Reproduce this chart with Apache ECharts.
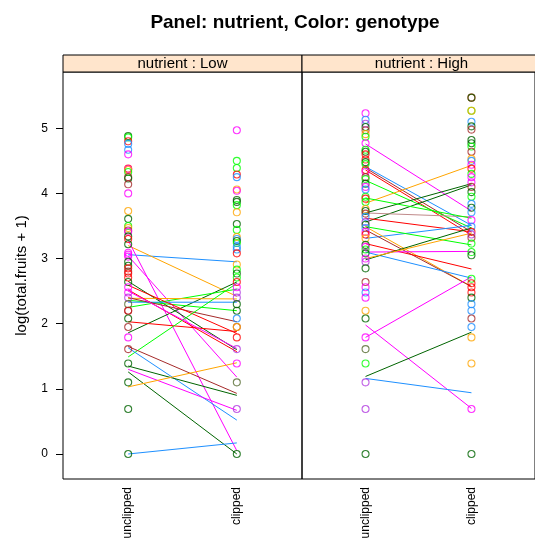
<!DOCTYPE html>
<html><head><meta charset="utf-8">
<script src="https://cdn.jsdelivr.net/npm/echarts@6/dist/echarts.min.js"></script>
<style>html,body{margin:0;padding:0;background:#fff}#c{width:535px;height:545px}</style>
</head><body><div id="c"></div>
<script>
// ---- data ----
const categories = ['unclipped', 'clipped'];
const panels = ['nutrient : Low', 'nutrient : High'];
const yTicks = [0, 1, 2, 3, 4, 5];
// genotype colour groups
const palette = ['#FF00FF','#00FF00','#1E90FF','#FFA500','#FF0000','#006400','#A52A2A','#B03AE0','#556B2F','#C08A8A'];

// Low nutrient, unclipped points
const lowUnclippedY = [4.88,4.86,4.80,4.76,4.67,4.60,4.38,4.37,4.36,4.33,4.25,4.23,4.14,4.00,3.73,3.61,3.50,3.47,3.43,3.41,3.34,3.30,3.22,3.09,3.06,3.03,2.95,2.89,2.85,2.80,2.77,2.71,2.64,2.56,2.48,2.40,2.30,2.20,2.20,2.08,1.95,1.79,1.61,1.39,1.10,0.69,0];
const lowUnclippedG = [5,1,4,2,2,0,4,0,3,1,6,5,6,0,3,5,1,3,6,0,5,4,5,0,0,0,5,5,4,6,4,4,5,0,0,7,8,4,6,5,6,0,6,5,5,5,5];
// Low nutrient, clipped points
const lowClippedY = [4.97,4.50,4.39,4.29,4.25,4.06,4.04,3.90,3.87,3.82,3.71,3.53,3.44,3.33,3.30,3.27,3.24,3.18,3.14,3.08,2.91,2.83,2.77,2.71,2.64,2.56,2.48,2.40,2.30,2.20,2.08,1.95,1.95,1.79,1.61,1.39,1.10,0.69,0];
const lowClippedG = [0,1,1,4,2,3,0,5,5,1,3,5,1,3,2,5,1,2,2,4,3,1,5,1,4,0,7,7,5,5,2,6,3,4,7,0,8,7,5];
// High nutrient, unclipped points
const highUnclippedY = [5.23,5.13,5.07,5.02,4.97,4.91,4.87,4.77,4.67,4.64,4.60,4.52,4.48,4.45,4.36,4.33,4.25,4.22,4.15,4.10,4.06,3.95,3.92,3.87,3.76,3.73,3.69,3.64,3.56,3.52,3.47,3.41,3.37,3.31,3.21,3.18,3.14,3.08,3.00,2.95,2.85,2.64,2.56,2.48,2.40,2.20,2.08,1.79,1.61,1.39,1.10,0.69,0];
const highUnclippedG = [0,2,7,5,6,3,1,0,1,5,4,4,5,1,4,0,6,1,5,0,2,1,4,1,3,5,6,2,7,5,2,0,4,3,5,0,1,5,0,7,5,6,0,2,0,3,5,0,8,1,7,7,5];
// High nutrient, clipped points
const highClippedY = [5.47,5.47,5.27,5.27,5.10,5.03,4.98,4.82,4.77,4.72,4.64,4.53,4.50,4.44,4.38,4.30,4.25,4.17,4.10,4.02,3.95,3.84,3.78,3.71,3.59,3.49,3.41,3.37,3.32,3.23,3.10,3.05,2.69,2.62,2.56,2.48,2.40,2.30,2.20,2.08,1.95,1.79,1.39,0.69,0];
const highClippedG = [4,5,1,3,2,5,6,5,5,1,6,3,2,0,4,1,0,0,6,5,1,2,5,2,0,2,4,7,6,1,1,5,1,4,4,4,5,2,2,6,2,3,3,0,5];

// genotype means (lines): unclipped -> clipped
const lowLineU = [3.06,3.20,3.28,3.04,2.65,1.86,2.25,2.36,2.39,2.33,2.40,2.59,2.52,2.03,1.49,1.65,1.63,1.35,1.30,1.26,1.03,0.00,2.50];
const lowLineC = [2.95,2.42,0.05,1.18,1.60,2.64,2.53,2.20,2.38,2.33,2.03,1.85,1.57,1.88,2.62,0.93,0.52,0.90,0.67,0.00,1.40,0.17,1.62];
const lowLineG = [2,3,0,0,5,5,1,1,3,2,6,4,4,4,1,6,2,5,0,5,3,2,0];
const highLineU = [4.76,4.41,4.39,4.36,4.20,3.85,3.70,3.56,3.70,3.62,3.31,3.49,3.49,3.44,3.23,3.10,3.10,2.98,3.00,1.79,1.98,1.19,1.16,3.93];
const highLineC = [3.73,3.51,3.41,3.36,3.47,4.43,4.15,4.13,3.64,3.41,3.51,3.21,2.57,2.57,2.84,3.11,2.70,3.47,3.39,2.72,0.70,1.87,0.94,3.62];
const highLineG = [0,2,6,4,1,3,5,5,9,4,2,1,3,6,4,0,2,5,3,0,0,5,2,1];

// ---- chart ----
const chart = echarts.init(document.getElementById('c'), null, {renderer: 'canvas'});
const font = 'Liberation Sans, Arial, sans-serif';
const yMin = -0.384, yMax = 5.864;

function pts(ys, gs, x, gi) {
  return {
    type: 'scatter', xAxisIndex: gi, yAxisIndex: gi, silent: true,
    symbol: 'circle', symbolSize: 7, z: 3,
    data: ys.map((v, i) => ({ value: [x, v], itemStyle: { color: 'rgba(0,0,0,0)', borderColor: palette[gs[i]], borderWidth: 1.1 } }))
  };
}
function lines(us, cs, gs, gi) {
  return us.map((u, i) => ({
    type: 'line', xAxisIndex: gi, yAxisIndex: gi, silent: true, symbol: 'none', z: 2,
    lineStyle: { color: palette[gs[i]], width: 1 },
    data: [[1, u], [2, cs[i]]]
  }));
}

const grids = [
  { left: 63, top: 72, width: 239, height: 407 },
  { left: 302, top: 72, width: 239, height: 407 }
].map(g => Object.assign(g, { show: true, borderColor: '#000', borderWidth: 1, backgroundColor: 'rgba(0,0,0,0)', containLabel: false }));

const xAxes = [0, 1].map(i => ({
  type: 'value', gridIndex: i, min: 0.4, max: 2.6,
  axisLine: { show: false }, splitLine: { show: false },
  axisTick: { show: false },
  axisLabel: { show: true, customValues: [1, 2], rotate: 90, margin: 8, color: '#000', fontSize: 12, fontFamily: font,
    formatter: v => categories[Math.round(v) - 1] }
}));
const yAxes = [0, 1].map(i => ({
  type: 'value', gridIndex: i, min: yMin, max: yMax,
  axisLine: { show: false }, splitLine: { show: false },
  axisTick: { show: i === 0, customValues: yTicks, length: 7, lineStyle: { color: '#000' } },
  axisLabel: { show: i === 0, customValues: yTicks, margin: 15, color: '#000', fontSize: 12, fontFamily: font },
  name: i === 0 ? 'log(total.fruits + 1)' : '', nameLocation: 'middle', nameGap: 34, nameRotate: 90,
  nameTextStyle: { color: '#000', fontSize: 15, fontFamily: font }
}));

const graphics = [];
[[63, 239], [302, 239]].forEach((p, i) => {
  graphics.push({ type: 'rect', shape: { x: p[0], y: 55, width: p[1], height: 17 }, style: { fill: '#FFE5CC', stroke: '#000', lineWidth: 1 }, z: 10 });
  graphics.push({ type: 'text', x: p[0] + p[1] / 2, y: 64, style: { text: panels[i], fill: '#000', font: '15px ' + font, textAlign: 'center', textVerticalAlign: 'middle' }, z: 11 });
});

chart.setOption({
  animation: false,
  backgroundColor: '#fff',
  title: { text: 'Panel: nutrient, Color: genotype', left: 290, top: 8, textAlign: 'center',
    textStyle: { fontSize: 19, fontWeight: 'bold', color: '#000', fontFamily: font } },
  grid: grids, xAxis: xAxes, yAxis: yAxes,
  graphic: graphics,
  series: [
    ...lines(lowLineU, lowLineC, lowLineG, 0),
    ...lines(highLineU, highLineC, highLineG, 1),
    pts(lowUnclippedY, lowUnclippedG, 1, 0),
    pts(lowClippedY, lowClippedG, 2, 0),
    pts(highUnclippedY, highUnclippedG, 1, 1),
    pts(highClippedY, highClippedG, 2, 1)
  ]
});
</script></body></html>
